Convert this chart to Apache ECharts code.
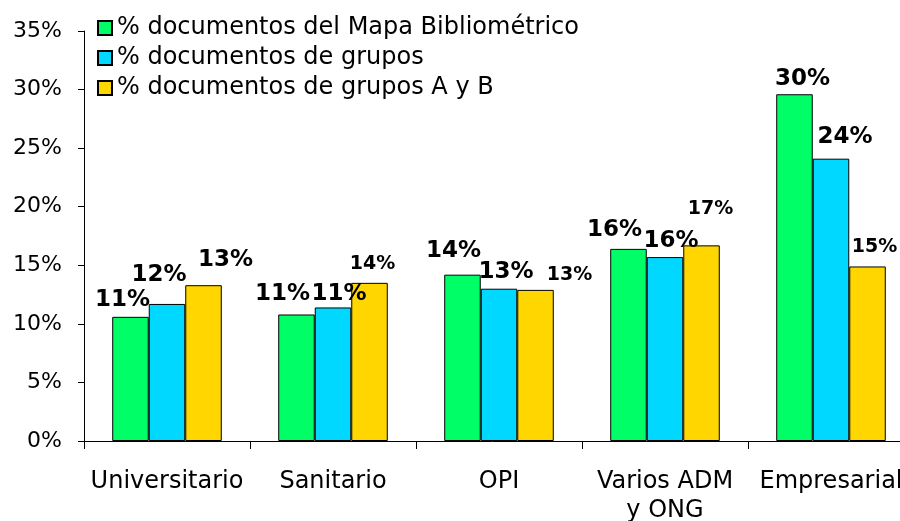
<!DOCTYPE html>
<html>
<head>
<meta charset="utf-8">
<script src="https://cdn.jsdelivr.net/npm/echarts@6/dist/echarts.min.js"></script>
<style>
  html, body { margin: 0; padding: 0; background: #fff; }
  #main { width: 900px; height: 521px; }
</style>
</head>
<body>
<div id="main"></div>
<script>
    // datos (%)
    var categorias = ['Universitario', 'Sanitario', 'OPI', 'Varios ADM\ny ONG', 'Empresarial'];
    var nombres = [
        '% documentos del Mapa Bibliométrico',
        '% documentos de grupos',
        '% documentos de grupos A y B'
    ];
    var mapaBiblio = [10.6, 10.8, 14.2, 16.4, 29.6];
    var grupos = [11.7, 11.4, 13.0, 15.7, 24.1];
    var gruposAB = [13.3, 13.5, 12.9, 16.7, 14.9];
    var ticksY = [0, 5, 10, 15, 20, 25, 30, 35];

    // estilo de las etiquetas (tamaño y desplazamiento de cada una)
    var tamEtiq = [
        [23, 23, 23, 23, 23],
        [23, 23, 23, 23, 23],
        [23, 19, 19, 19, 19]
    ];
    var despEtiq = [
        [[-8, -5], [-14, -9], [-9, -12], [-14, -7], [8, -4]],
        [[-8, -17], [6, -2], [7, -5], [6, -5], [14, -10]],
        [[22, -14], [3, -9], [34, -5], [9, -27], [7, -10]]
    ];
    var colores = ['#00FF66', '#00D8FF', '#FFD600'];

    var myChart = echarts.init(document.getElementById('main'));

    function serie(i, valores) {
        return {
            name: nombres[i],
            type: 'bar',
            barGap: 0,
            barCategoryGap: '34%',
            itemStyle: { color: colores[i], borderColor: '#000', borderWidth: 1 },
            data: valores.map(function (v, j) {
                return {
                    value: v,
                    label: {
                        fontSize: tamEtiq[i][j],
                        offset: despEtiq[i][j]
                    }
                };
            }),
            label: {
                show: true,
                position: 'top',
                distance: 0,
                color: '#000',
                fontFamily: 'DejaVu Sans',
                fontWeight: 'bold',
                formatter: function (p) { return Math.round(p.value) + '%'; }
            }
        };
    }

    myChart.setOption({
        animation: false,
        textStyle: { fontFamily: 'DejaVu Sans' },
        legend: {
            orient: 'vertical',
            left: 97,
            top: 16,
            padding: 0,
            icon: 'rect',
            itemWidth: 14,
            itemHeight: 14,
            itemGap: 6,
            textStyle: { fontSize: 24, color: '#000', fontFamily: 'DejaVu Sans' },
            data: nombres
        },
        grid: {
            left: 84, top: 31, width: 830, bottom: 80,
            containLabel: false, outerBoundsMode: 'none'
        },
        xAxis: {
            type: 'category',
            data: categorias,
            axisLine: { lineStyle: { color: '#000', width: 1 } },
            axisTick: { show: true, length: 8, lineStyle: { color: '#000' } },
            axisLabel: {
                color: '#000', fontSize: 24, margin: 26, lineHeight: 29,
                fontFamily: 'DejaVu Sans', interval: 0
            }
        },
        yAxis: {
            type: 'value',
            min: ticksY[0],
            max: ticksY[ticksY.length - 1],
            interval: 5,
            axisLine: { show: true, lineStyle: { color: '#000', width: 1 } },
            axisTick: { show: true, length: 6, lineStyle: { color: '#000' } },
            splitLine: { show: false },
            axisLabel: {
                color: '#000', fontSize: 22, margin: 22,
                fontFamily: 'DejaVu Sans',
                formatter: '{value}%'
            }
        },
        series: [
            serie(0, mapaBiblio),
            serie(1, grupos),
            serie(2, gruposAB)
        ]
    });
</script>
</body>
</html>
